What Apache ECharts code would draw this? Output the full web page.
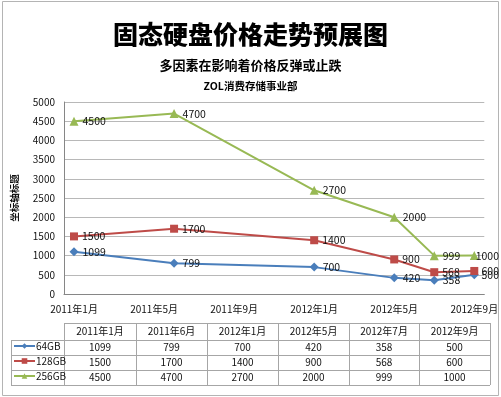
<!DOCTYPE html>
<html>
<head>
<meta charset="utf-8">
<script src="https://cdn.jsdelivr.net/npm/echarts@6/dist/echarts.min.js"></script>
<style>
html, body { margin: 0; padding: 0; background: #fff; }
#main { width: 501px; height: 397px; }
</style>
</head>
<body>
<div id="main"></div>
<script>
// month slots of the date axis
var months = ['2011年1月','2011年2月','2011年3月','2011年4月','2011年5月','2011年6月','2011年7月',
  '2011年8月','2011年9月','2011年10月','2011年11月','2011年12月','2012年1月','2012年2月',
  '2012年3月','2012年4月','2012年5月','2012年6月','2012年7月','2012年8月','2012年9月'];
var dates = ['2011年1月', '2011年6月', '2012年1月', '2012年5月', '2012年7月', '2012年9月'];
var names = ['64GB', '128GB', '256GB'];
var gb64 = [1099, 799, 700, 420, 358, 500];
var gb128 = [1500, 1700, 1400, 900, 568, 600];
var gb256 = [4500, 4700, 2700, 2000, 999, 1000];

var font = '"Noto Sans CJK SC", "Microsoft YaHei", sans-serif';
var colors = ['#4a7ebb', '#be4b48', '#98b954'];
var symbols = ['diamond', 'rect', 'triangle'];
var sizes = [9, 8, 9];
var values = [gb64, gb128, gb256];

var myChart = echarts.init(document.getElementById('main'));

function pairs(arr) {
  return dates.map(function (d, i) { return [d, arr[i]]; });
}

var series = names.map(function (n, k) {
  return {
    name: n,
    type: 'line',
    data: pairs(values[k]),
    symbol: symbols[k],
    symbolSize: sizes[k],
    lineStyle: { color: colors[k], width: 2 },
    itemStyle: { color: colors[k] },
    label: {
      show: true,
      position: 'right',
      distance: 4,
      offset: [0, 2],
      fontSize: 10.5,
      fontFamily: font,
      color: '#111'
    },
    // keep labels inside the picture like Excel does
    labelLayout: function (p) {
      var over = p.labelRect.x + p.labelRect.width - 499;
      return over > 0 ? { dx: -over } : {};
    }
  };
});

// data table under the plot
var colX = [64, 136, 207, 278, 349, 419, 490];
var rowY = [323, 340, 355, 370, 385];
var gfx = [];
var lineStyle = { stroke: '#a6a6a6', lineWidth: 1 };
gfx.push({ type: 'rect', shape: { x: 2.5, y: 1.5, width: 496, height: 394 },
  style: { fill: 'none', stroke: '#b4b4b4', lineWidth: 1 } });
rowY.forEach(function (y, r) {
  var x0 = r === 0 ? 64 : 11;
  gfx.push({ type: 'line', shape: { x1: x0, y1: y + 0.5, x2: 490, y2: y + 0.5 }, style: lineStyle });
});
gfx.push({ type: 'line', shape: { x1: 11.5, y1: 340, x2: 11.5, y2: 385 }, style: lineStyle });
colX.forEach(function (x) {
  gfx.push({ type: 'line', shape: { x1: x + 0.5, y1: 323, x2: x + 0.5, y2: 385 }, style: lineStyle });
});
dates.forEach(function (d, j) {
  var cx = (colX[j] + colX[j + 1]) / 2;
  gfx.push({ type: 'text', x: cx, y: (rowY[0] + rowY[1]) / 2,
    style: { text: d, fontSize: 10, fontFamily: font, fill: '#111', align: 'center', verticalAlign: 'middle' } });
  values.forEach(function (arr, k) {
    gfx.push({ type: 'text', x: cx, y: (rowY[k + 1] + rowY[k + 2]) / 2,
      style: { text: String(arr[j]), fontSize: 10, fontFamily: font, fill: '#111', align: 'center', verticalAlign: 'middle' } });
  });
});

// one legend per table row, so each key sits in its own row
var legends = names.map(function (n, k) {
  return {
    left: 13,
    top: (rowY[k + 1] + rowY[k + 2]) / 2 - 6.5,
    padding: 0,
    itemWidth: 21,
    itemHeight: 7,
    textStyle: { fontSize: 10, fontFamily: font, color: '#111', padding: [0, 0, 0, -4] },
    data: [n]
  };
});

var option = {
  backgroundColor: '#fff',
  animation: false,
  title: [
    { text: '固态硬盘价格走势预展图', left: 'center', top: 17,
      textStyle: { fontSize: 25, fontWeight: 900, color: '#000', fontFamily: font } },
    { text: '多因素在影响着价格反弹或止跌', left: 'center', top: 54,
      textStyle: { fontSize: 13, fontWeight: 'bold', color: '#000', fontFamily: font } },
    { text: 'ZOL消费存储事业部', left: 'center', top: 76,
      textStyle: { fontSize: 10.5, fontWeight: 'bold', color: '#000', fontFamily: font } }
  ],
  legend: legends,
  grid: { left: 64, right: 10, top: 102, bottom: 103 },
  xAxis: {
    type: 'category',
    data: months,
    boundaryGap: true,
    axisLine: { lineStyle: { color: '#868686' } },
    axisTick: { show: false },
    axisLabel: { interval: 3, fontSize: 10, fontFamily: font, color: '#111', margin: 10 }
  },
  yAxis: {
    type: 'value',
    min: 0,
    max: 5000,
    interval: 500,
    name: '坐标轴标题',
    nameLocation: 'middle',
    nameRotate: 90,
    nameGap: 45,
    nameTextStyle: { fontSize: 9.5, fontWeight: 'bold', color: '#111', fontFamily: font },
    axisLine: { show: true, lineStyle: { color: '#868686' } },
    axisTick: { show: false },
    axisLabel: { fontSize: 10, fontFamily: font, color: '#111', margin: 9,
      formatter: function (v) { return String(v); } },
    splitLine: { lineStyle: { color: '#b8b8b8' } }
  },
  graphic: gfx,
  series: series
};
myChart.setOption(option, true);
</script>
</body>
</html>
